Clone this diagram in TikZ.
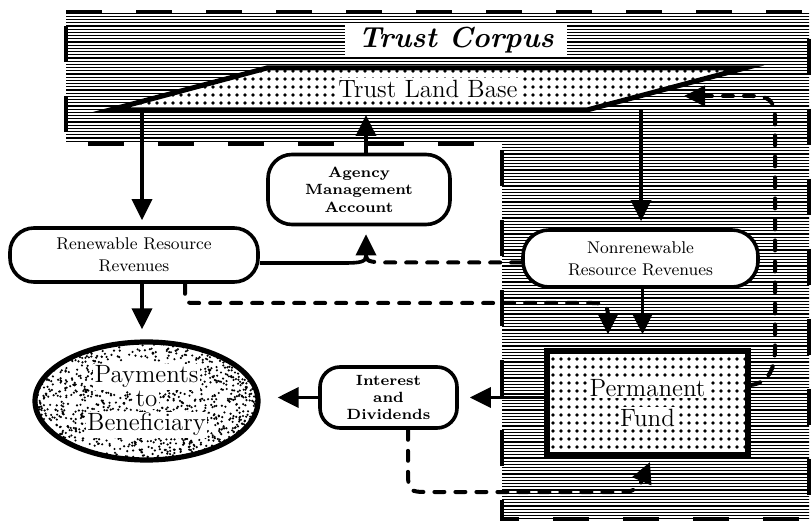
\documentclass[tikz,border=0pt]{standalone}
\usetikzlibrary{arrows.meta,patterns.meta,shapes.geometric}
\tikzdeclarepattern{
  name=hlines,
  type=uncolored,
  bounding box={(0pt,-0.8pt) and (4pt,0.8pt)},
  tile size={(4pt,1.6pt)},
  code={\fill (-0.05pt,-0.3pt) rectangle (4.05pt,0.3pt);}
}
\tikzdeclarepattern{
  name=bigdots,
  type=uncolored,
  bounding box={(-2.1pt,-2.1pt) and (2.1pt,2.1pt)},
  tile size={(4.2pt,4.2pt)},
  code={\fill (0pt,0pt) circle (1pt);}
}
\setlength{\fboxsep}{0.8pt}
\begin{document}
\begin{tikzpicture}[x=0.5pt,y=-0.5pt,
  corpus/.style={draw, line width=2.2pt, dash pattern=on 18pt off 17pt, pattern=hlines, pattern color=black},
  landbase/.style={draw, line width=2.5pt, line join=miter, preaction={fill=white}, pattern=bigdots, pattern color=black},
  landtext/.style={fill=white, inner sep=1.2pt, font=\fontsize{12.5}{15}\selectfont},
  titlebox/.style={fill=white, minimum width=111pt, minimum height=16.5pt, inner sep=0pt, font=\fontsize{14.5}{17}\selectfont\bfseries\itshape},
  rbox/.style={draw, line width=1.8pt, fill=white, align=center, inner sep=1pt},
  smallbold/.style={font=\fontsize{7.4}{8.7}\selectfont\bfseries},
  medfont/.style={font=\fontsize{8.5}{11}\selectfont},
  permbox/.style={draw, line width=2.6pt, preaction={fill=white}, pattern=bigdots, pattern color=black, minimum width=100.5pt, minimum height=52pt, inner sep=0pt, align=center, font=\fontsize{12.5}{15}\selectfont},
  paybox/.style={ellipse, draw, line width=2.6pt, fill=white, minimum width=111.5pt, minimum height=59pt, inner sep=0pt, align=center, font=\fontsize{12.5}{12}\selectfont,
    path picture={\pgfmathsetseed{11}\foreach \i in {1,...,1500}{\fill[black] ([shift={({111.5*rand},{59*rand})}]path picture bounding box.center) circle (0.6pt);}}},
  conn/.style={line width=1.8pt},
  arr/.style={conn, -{Triangle[width=10pt,length=10.5pt]}},
  dconn/.style={line width=2pt, line cap=round, dash pattern=on 5pt off 5.5pt},
  darr/.style={dconn, -{Triangle[width=10pt,length=10.5pt]}}
]
\useasboundingbox (0,0) rectangle (812,522);
% Trust corpus area
\path[corpus] (66,12) -- (809,12) -- (809,519) -- (502,519) -- (502,144) -- (66,144) -- cycle;
% Trust land base
\draw[landbase] (110,110) -- (267,68) -- (745,68) -- (587,110) -- cycle;
\node[landtext] (land) at (428,89) {Trust Land Base};
\coordinate (landL) at (142,110);
\coordinate (landA) at (366,110);
\coordinate (landR) at (641,110);
\coordinate (landTip) at (684,96);
\node[titlebox] (title) at (456,40.5) {Trust Corpus};

% boxes
\node[rbox, smallbold, minimum width=91pt, minimum height=35pt, rounded corners=12pt] (agency) at (359,189.5) {Agency\\Management\\Account};
\node[rbox, medfont, minimum width=124pt, minimum height=27pt, rounded corners=12pt] (renew) at (134,255) {Renewable Resource\\Revenues};
\node[rbox, medfont, minimum width=117.5pt, minimum height=28.5pt, rounded corners=13pt] (nonrenew) at (640.5,258.5) {Nonrenewable\\Resource Revenues};
\node[rbox, smallbold, minimum width=68.5pt, minimum height=30.5pt, rounded corners=10pt] (interest) at (388.5,397.5) {Interest\\and\\Dividends};
\node[permbox] (perm) at (647.5,403) {\colorbox{white}{Permanent}\\\colorbox{white}{Fund}};
\node[paybox] (pay) at (146.5,401) {\colorbox{white}{Payments}\\\colorbox{white}{to}\\\colorbox{white}{Beneficiary}};

\coordinate (payTop) at ([xshift=-2.25pt]pay.north);
\coordinate (rb) at ([xshift=25.5pt]renew.south);
\coordinate (permN1) at ([xshift=-19.75pt]perm.north);
\coordinate (permN2) at ([xshift=-2.5pt]perm.north);
\coordinate (ib) at ([xshift=9.75pt]interest.south);
\coordinate (pbTip) at (650,462);
\coordinate (mrg) at (366,256);

% connectors
\draw[arr, shorten >=3pt] (landL) -- (landL |- renew.north);
\draw[arr, shorten >=2.5pt] (agency.north -| landA) -- (landA);
\draw[arr, shorten >=3.5pt] (landR) -- (landR |- nonrenew.north);

\draw[conn] ([yshift=-4pt]renew.east) -- (344,263) .. controls (360,263) and (366,262) .. (mrg);
\draw[dconn] ([yshift=-2pt]nonrenew.west) -- (390,262.5) .. controls (373,262.5) and (366,262) .. (mrg);
\draw[arr, shorten >=4pt] (mrg) -- (agency.south -| mrg);

\draw[arr, shorten >=5pt] (payTop |- renew.south) -- (payTop);
\draw[darr, shorten >=7pt] (rb) -- (185,292) .. controls (185,303) .. (197,303) -- (592,303) .. controls (606,303) and (608,306) .. (608,318) -- (permN1);
\draw[arr, shorten >=7pt] (permN2 |- nonrenew.south) -- (permN2);

\draw[arr, shorten >=5.5pt] (perm.west |- interest.east) -- (interest.east);
\draw[arr, shorten >=8.5pt] (interest.west) -- (pay.east |- interest.west);

\draw[darr] (ib) -- (408,468) .. controls (408,492) .. (430,492) -- (622,492) .. controls (636,492) and (640,486) .. (644,476) -- (pbTip);
\draw[darr] ([yshift=9pt]perm.east) .. controls (768,383) and (775,370) .. (775,348) -- (775,118) .. controls (775,100) and (768,96) .. (752,96) -- (landTip);
\end{tikzpicture}
\end{document}
